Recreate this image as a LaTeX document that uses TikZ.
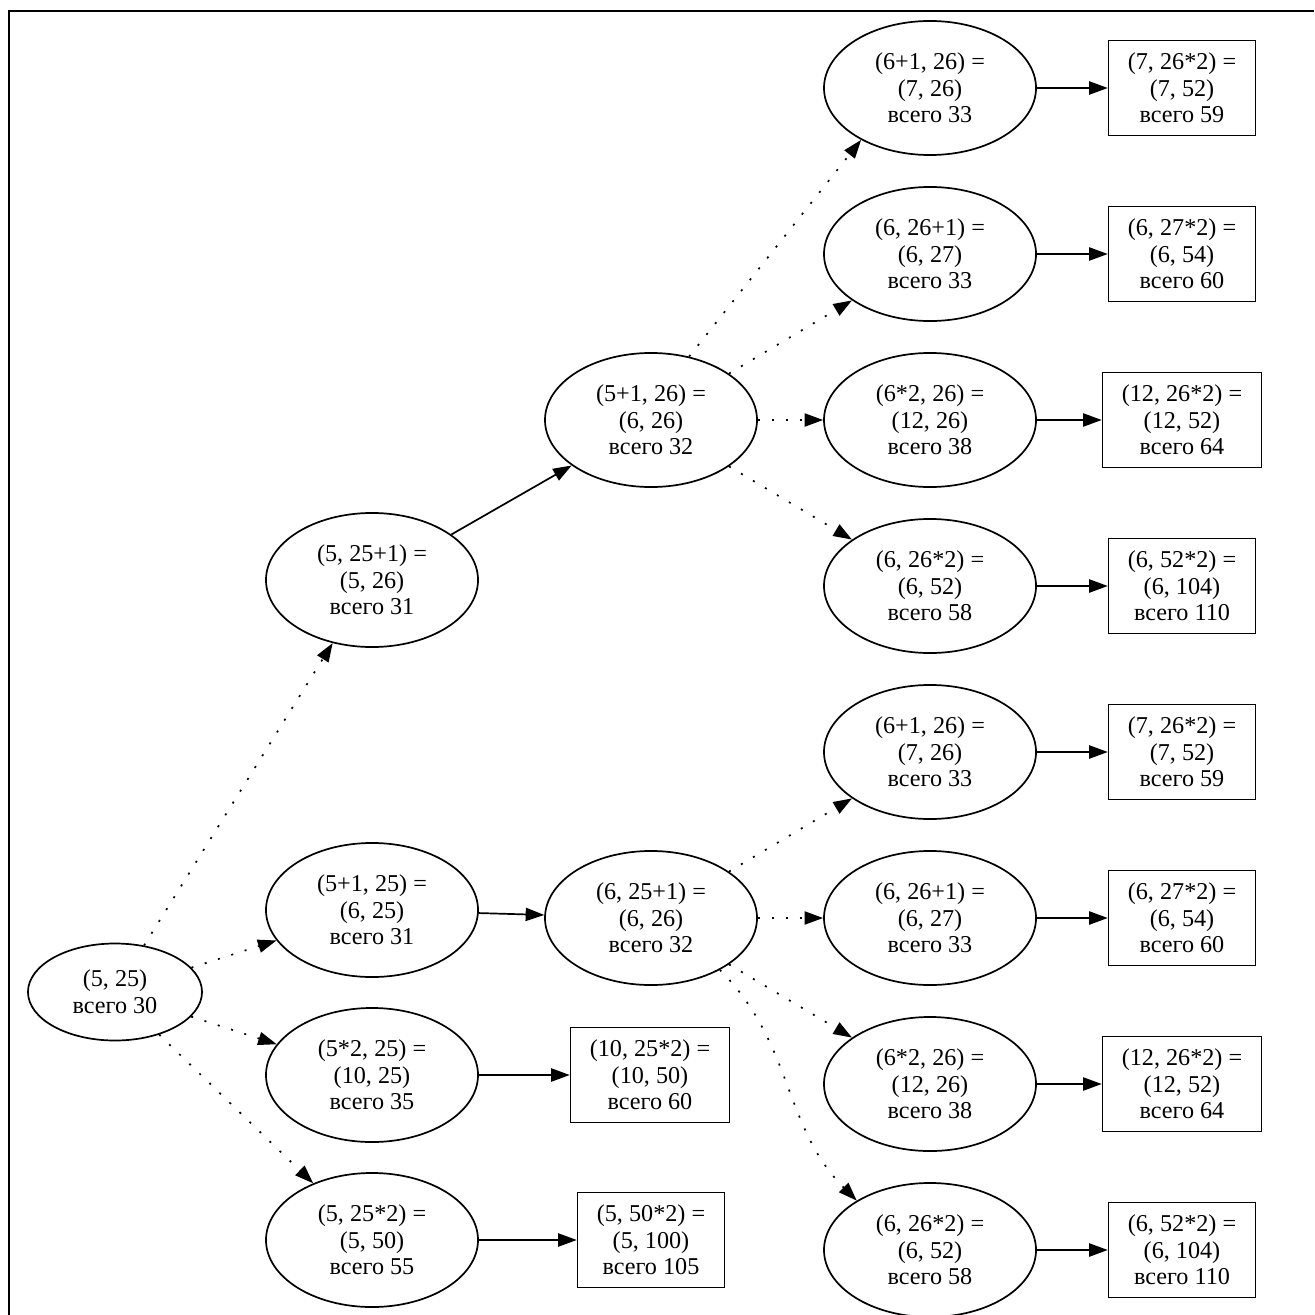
\documentclass[tikz,border=0pt]{standalone}
\usepackage{fontspec}
\setmainfont{Liberation Serif}
\usepackage{tikz}
\usetikzlibrary{shapes.geometric}
\usetikzlibrary{arrows.meta}

\newcommand\gvfont{\fontsize{15.6}{17.2}\selectfont}

\tikzset{
  pairnode/.style={draw, ellipse, line width=1.1pt, minimum width=136.8pt,
    minimum height=86.5pt, inner sep=0pt, align=center, font=\gvfont},
  rootnode/.style={pairnode, minimum width=112.3pt, minimum height=62.6pt},
  donebox/.style={draw, rectangle, line width=1.1pt, minimum height=61.3pt,
    inner xsep=12.4pt, align=center, font=\gvfont},
  firmarrow/.style={-{Triangle[length=12pt,width=8.5pt]}, line width=1.1pt},
  tryarrow/.style={firmarrow, dash pattern=on 1.3pt off 7.7pt},
}

\begin{document}
\begin{tikzpicture}[x=0.6452pt,y=-0.6452pt]
    \useasboundingbox (0,0) rectangle (1314,1315);
    \draw[line width=1.3pt] (9,1315) -- (9,11) -- (1314,11);

    % start and the first step
    \node[rootnode] (s) at (115,992) {(5, 25)\\всего 30};
    \node[pairnode] (a) at (372,580) {(5, 25+1) =\\(5, 26)\\всего 31};
    \node[pairnode] (b) at (372,910) {(5+1, 25) =\\(6, 25)\\всего 31};
    \node[pairnode] (c) at (372,1075) {(5*2, 25) =\\(10, 25)\\всего 35};
    \node[pairnode] (d) at (372,1240) {(5, 25*2) =\\(5, 50)\\всего 55};

    % second step
    \node[pairnode] (aa) at (651,420) {(5+1, 26) =\\(6, 26)\\всего 32};
    \node[pairnode] (ba) at (651,918) {(6, 25+1) =\\(6, 26)\\всего 32};
    \node[donebox] (cw) at (650,1075) {(10, 25*2) =\\(10, 50)\\всего 60};
    \node[donebox] (dw) at (651,1240) {(5, 50*2) =\\(5, 100)\\всего 105};

    % third step, upper branch
    \node[pairnode] (t1) at (930,88) {(6+1, 26) =\\(7, 26)\\всего 33};
    \node[pairnode] (t2) at (930,254) {(6, 26+1) =\\(6, 27)\\всего 33};
    \node[pairnode] (t3) at (930,420) {(6*2, 26) =\\(12, 26)\\всего 38};
    \node[pairnode] (t4) at (930,586) {(6, 26*2) =\\(6, 52)\\всего 58};
    \node[donebox] (t1w) at (1182,88) {(7, 26*2) =\\(7, 52)\\всего 59};
    \node[donebox] (t2w) at (1182,254) {(6, 27*2) =\\(6, 54)\\всего 60};
    \node[donebox] (t3w) at (1182,420) {(12, 26*2) =\\(12, 52)\\всего 64};
    \node[donebox] (t4w) at (1182,586) {(6, 52*2) =\\(6, 104)\\всего 110};

    % third step, lower branch
    \node[pairnode] (u1) at (930,752) {(6+1, 26) =\\(7, 26)\\всего 33};
    \node[pairnode] (u2) at (930,918) {(6, 26+1) =\\(6, 27)\\всего 33};
    \node[pairnode] (u3) at (930,1084) {(6*2, 26) =\\(12, 26)\\всего 38};
    \node[pairnode] (u4) at (930,1250) {(6, 26*2) =\\(6, 52)\\всего 58};
    \node[donebox] (u1w) at (1182,752) {(7, 26*2) =\\(7, 52)\\всего 59};
    \node[donebox] (u2w) at (1182,918) {(6, 27*2) =\\(6, 54)\\всего 60};
    \node[donebox] (u3w) at (1182,1084) {(12, 26*2) =\\(12, 52)\\всего 64};
    \node[donebox] (u4w) at (1182,1250) {(6, 52*2) =\\(6, 104)\\всего 110};

    \draw[tryarrow] (s) -- (a);
    \draw[tryarrow] (s) -- (b);
    \draw[tryarrow] (s) -- (c);
    \draw[tryarrow] (s) -- (d);
    \draw[firmarrow] (a) -- (aa);
    \draw[firmarrow] (b) -- (ba);
    \draw[firmarrow] (c) -- (cw);
    \draw[firmarrow] (d) -- (dw);

    \draw[tryarrow] (aa.59) -- (t1.217);
    \draw[tryarrow] (aa) -- (t2);
    \draw[tryarrow] (aa) -- (t3);
    \draw[tryarrow] (aa) -- (t4);
    \draw[tryarrow] (ba) -- (u1);
    \draw[tryarrow] (ba) -- (u2);
    \draw[tryarrow] (ba) -- (u3);
    \draw[tryarrow] (ba.-37) to[out=-45,in=135] (u4.146);

    \draw[firmarrow] (t1) -- (t1w);
    \draw[firmarrow] (t2) -- (t2w);
    \draw[firmarrow] (t3) -- (t3w);
    \draw[firmarrow] (t4) -- (t4w);
    \draw[firmarrow] (u1) -- (u1w);
    \draw[firmarrow] (u2) -- (u2w);
    \draw[firmarrow] (u3) -- (u3w);
    \draw[firmarrow] (u4) -- (u4w);
  \end{tikzpicture}
\end{document}
